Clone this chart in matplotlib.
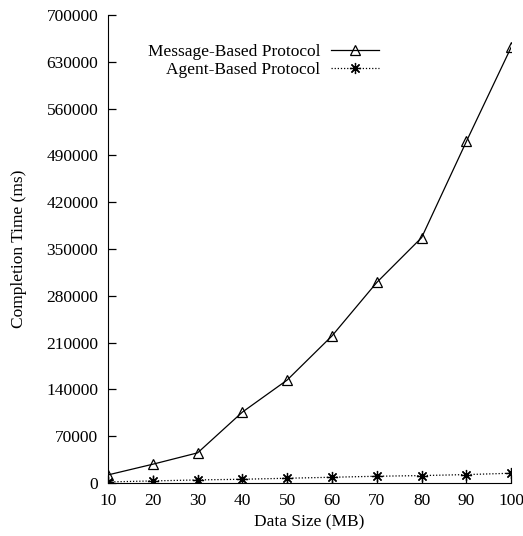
import matplotlib.pyplot as plt

data_size = [10, 20, 30, 40, 50, 60, 70, 80, 90, 100]
message_based = [12000, 28000, 45000, 106000, 154000, 220000, 300000, 367000, 511000, 652000]
agent_based = [1500, 3000, 4500, 5500, 7000, 8500, 10000, 11000, 12500, 14500]
y_ticks = [0, 70000, 140000, 210000, 280000, 350000, 420000, 490000, 560000, 630000, 700000]

plt.rcParams['font.family'] = ['Liberation Serif', 'DejaVu Serif']
plt.rcParams['font.size'] = 12.5

fig = plt.figure(figsize=(5.23, 5.36), dpi=100)
ax = fig.add_axes([0.2065, 0.099, 0.771, 0.873])

ax.plot(data_size, message_based, color='black', linewidth=0.9, marker='^',
        markersize=7, markerfacecolor='none', markeredgewidth=0.9,
        label='Message-Based Protocol')
ax.plot(data_size, agent_based, color='black', linewidth=0.9, linestyle=(0, (1, 1.5)),
        marker=(8, 2, 0), markersize=8, markeredgewidth=0.9,
        label='Agent-Based Protocol')

ax.set_xlim(10, 100)
ax.set_ylim(0, 700000)
ax.set_xticks(data_size)
ax.set_yticks(y_ticks)
ax.spines['top'].set_visible(False)
ax.spines['right'].set_visible(False)
ax.tick_params(direction='in', length=6, width=0.9, pad=7)
ax.set_xlabel('Data Size (MB)', labelpad=4)
ax.set_ylabel('Completion Time (ms)', labelpad=14)

ax.legend(loc='upper left', bbox_to_anchor=(0.06, 0.971), frameon=False,
          markerfirst=False, handlelength=2.8, handletextpad=0.6, labelspacing=0.1)

plt.savefig('out.png', dpi=100)
